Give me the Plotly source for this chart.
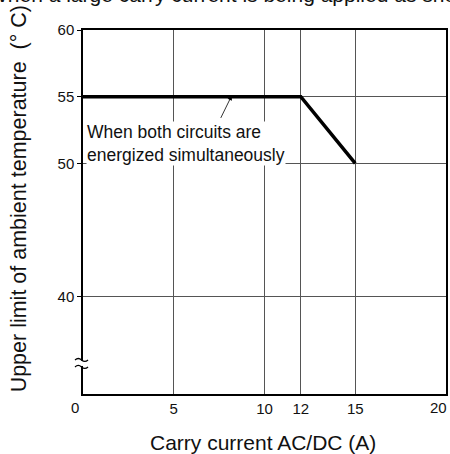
import plotly.graph_objects as go

# Data
current_a = [0, 12, 15]
temp_limit_c = [55, 55, 50]
x_tick_vals = [5, 10, 12, 15]
x_tick_text = ["5", "10", "12", "15"]
y_tick_vals = [40, 50, 55, 60]
y_tick_text = ["40", "50", "55", "60"]
x_range = [0, 20]
y_range = [32.73, 60]

FONT = "Liberation Sans, Arial, Helvetica, sans-serif"

fig = go.Figure()
fig.add_trace(go.Scatter(
    x=current_a, y=temp_limit_c, mode="lines",
    line=dict(color="black", width=3.5), hoverinfo="skip", showlegend=False,
))

fig.update_layout(
    width=450, height=454,
    margin=dict(l=83, r=4, t=30, b=60),
    paper_bgcolor="white", plot_bgcolor="white",
    font=dict(family=FONT, size=15, color="#111"),
    showlegend=False,
)
fig.update_xaxes(
    range=x_range, tickvals=x_tick_vals + [20], ticktext=x_tick_text + [""],
    showgrid=True, gridcolor="#555", gridwidth=0.8,
    showline=True, linecolor="black", linewidth=1.5, mirror=True,
    ticks="", zeroline=False, tickfont=dict(size=15), automargin=False,
)
fig.update_yaxes(
    range=y_range, tickvals=y_tick_vals, ticktext=y_tick_text,
    showgrid=True, gridcolor="#555", gridwidth=0.8,
    showline=True, linecolor="black", linewidth=1.5, mirror=True,
    ticks="outside", ticklen=4, tickcolor="black",
    zeroline=False, tickfont=dict(size=15), automargin=False,
)

# origin label and last x label (kept inside the page)
fig.add_annotation(x=-0.022, y=-0.008, xref="paper", yref="paper", text="0",
                   showarrow=False, xanchor="center", yanchor="top",
                   font=dict(size=15, family=FONT))
fig.add_annotation(x=20, y=-0.008, xref="x", yref="paper", text="20",
                   showarrow=False, xanchor="right", yanchor="top", xshift=3,
                   font=dict(size=15, family=FONT))

# axis titles
fig.add_annotation(x=-0.176, y=0.535, xref="paper", yref="paper",
                   text="Upper limit of ambient temperature  (° C)", textangle=-90,
                   showarrow=False, xanchor="center", yanchor="middle",
                   font=dict(size=21.5, family=FONT))
fig.add_annotation(x=0.496, y=-0.134, xref="paper", yref="paper",
                   text="Carry current AC/DC (A)", xanchor="center", yanchor="middle",
                   showarrow=False, font=dict(size=21, family=FONT))

# clipped caption at top
fig.add_annotation(x=0.42, y=1.06, xref="paper", yref="paper",
                   text="When a large carry current is being applied as shown",
                   showarrow=False, xanchor="center", yanchor="bottom",
                   font=dict(size=21, family=FONT))

# note with arrow
fig.add_annotation(x=0.15, y=53.2, xref="x", yref="y",
                   text="When both circuits are<br>energized simultaneously",
                   showarrow=False, xanchor="left", yanchor="top", align="left",
                   font=dict(size=17.5, family=FONT), bgcolor="white", borderpad=0)
fig.add_annotation(x=8.2, y=55.1, ax=7.55, ay=53.3, xref="x", yref="y",
                   axref="x", ayref="y", text="", showarrow=True,
                   arrowhead=2, arrowsize=1.2, arrowwidth=0.8, arrowcolor="black")

# axis break symbol
fig.add_shape(type="rect", xref="paper", yref="y", x0=-0.01, x1=0.01, y0=34.83, y1=35.22,
              fillcolor="white", line=dict(width=0), layer="above")
for yb in (35.28, 34.76):
    fig.add_shape(type="path", xref="paper", yref="y",
                  path=f"M -0.022 {yb} Q -0.013 {yb + 0.22} -0.004 {yb} "
                       f"Q 0.005 {yb - 0.22} 0.0138 {yb}",
                  line=dict(color="black", width=1.3), layer="above")

fig.write_html("out.html", config={"displayModeBar": False},
               post_script="document.body.style.margin='0px';")
